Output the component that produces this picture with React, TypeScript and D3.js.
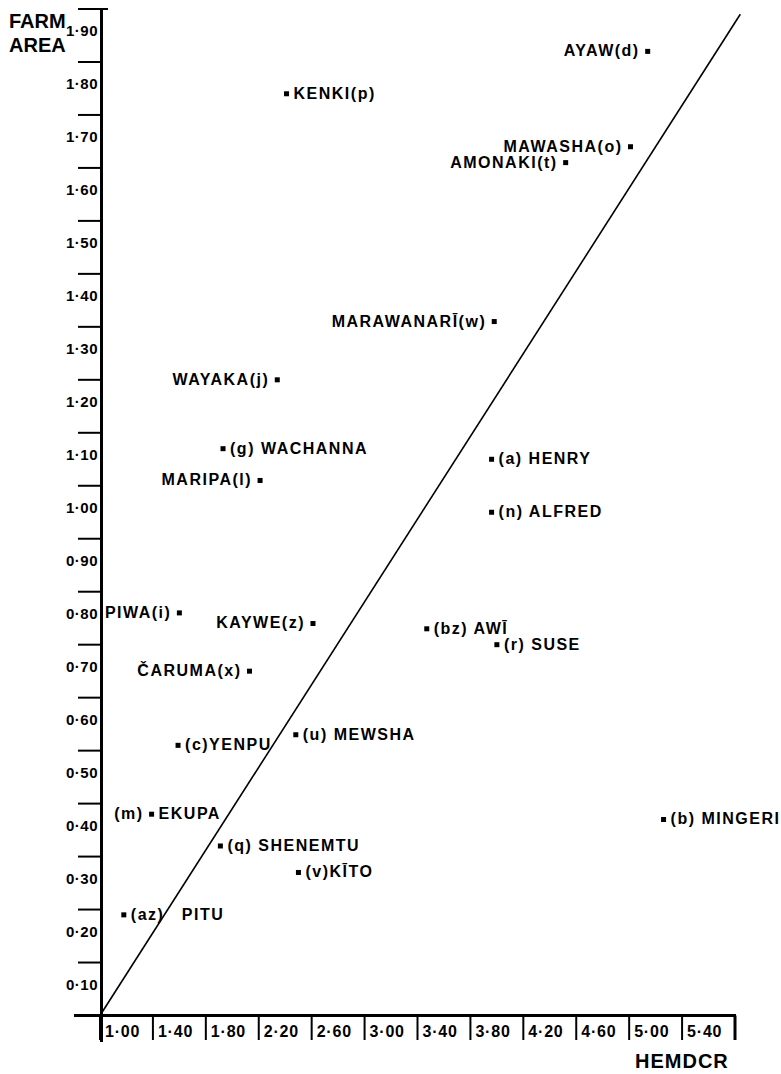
import React from "react";
import * as d3 from "d3";

// values (HEMDCR vs FARM AREA)
const hemdcr = [5.14, 2.41, 5.01, 4.52, 3.98, 2.34, 1.93, 2.21, 3.96, 3.96, 1.6, 2.61, 3.47, 4.0, 2.13, 1.59, 2.48, 1.39, 1.91, 2.5, 1.18, 5.26];
const farmArea = [1.82, 1.74, 1.64, 1.61, 1.31, 1.2, 1.07, 1.01, 1.05, 0.95, 0.76, 0.74, 0.73, 0.7, 0.65, 0.51, 0.53, 0.38, 0.32, 0.27, 0.19, 0.37];
// text written to the left / right of each marker
const leftLabels = ["AYAW(d)", "", "MAWASHA(o)", "AMONAKI(t)", "MARAWANARĪ(w)", "WAYAKA(j)", "", "MARIPA(l)", "", "", "PIWA(i)", "KAYWE(z)", "", "", "ČARUMA(x)", "", "", "(m)", "", "", "", ""];
const rightLabels = ["", "KENKI(p)", "", "", "", "", "(g) WACHANNA", "", "(a) HENRY", "(n) ALFRED", "", "", "(bz) AWĪ", "(r) SUSE", "", "(c)YENPU", "(u) MEWSHA", "EKUPA", "(q) SHENEMTU", "(v)KĪTO", "(az)\u2003PITU", "(b) MINGERI"];

// the reference line
const lineHemdcr = [1.0, 5.84];
const lineFarm = [0, 1.89];

const xTickValues = [1.0, 1.4, 1.8, 2.2, 2.6, 3.0, 3.4, 3.8, 4.2, 4.6, 5.0, 5.4, 5.8];
const xTickLabels = ["1·00", "1·40", "1·80", "2·20", "2·60", "3·00", "3·40", "3·80", "4·20", "4·60", "5·00", "5·40"];
const yTickValues = [0.1, 0.2, 0.3, 0.4, 0.5, 0.6, 0.7, 0.8, 0.9, 1.0, 1.1, 1.2, 1.3, 1.4, 1.5, 1.6, 1.7, 1.8, 1.9];
const yTickLabels = ["0·10", "0·20", "0·30", "0·40", "0·50", "0·60", "0·70", "0·80", "0·90", "1·00", "1·10", "1·20", "1·30", "1·40", "1·50", "1·60", "1·70", "1·80", "1·90"];

const FONT = "'Liberation Sans', Arial, sans-serif";

const App = () => {
  const width = 781;
  const height = 1074;

  const x = d3.scaleLinear().domain([1.0, 5.8]).range([100, 735]);
  const y = d3.scaleLinear().domain([0, 1.9]).range([1015.5, 9]);

  const axisX = x(1.0) + 1.5;
  const axisY = y(0);

  const line = d3.line<number>()
    .x(d => x(lineHemdcr[d]))
    .y(d => y(lineFarm[d]));

  const points = hemdcr.map((h, i) => {
    const px = x(h);
    const py = y(farmArea[i]);
    return (
      <g key={i}>
        <rect x={px - 2.5} y={py - 2.5} width={5} height={5} fill="#000" />
        {leftLabels[i] && (
          <text x={px - 8} y={py + 5} textAnchor="end">{leftLabels[i]}</text>
        )}
        {rightLabels[i] && (
          <text x={px + 7} y={py + 5}>{rightLabels[i]}</text>
        )}
      </g>
    );
  });

  return (
    <svg
      width={width}
      height={height}
      style={{ position: "absolute", left: 0, top: 0, background: "#fff" }}
      fontFamily={FONT}
    >
      <rect width={width} height={height} fill="#fff" />

      {/* y axis */}
      <line x1={axisX} y1={y(1.9)} x2={axisX} y2={1042} stroke="#000" strokeWidth={3} />
      {yTickValues.map((v, i) => (
        <g key={"yt" + i}>
          <line x1={78} y1={y(v)} x2={v === 1.9 ? 108 : axisX} y2={y(v)} stroke="#000" strokeWidth={2} />
          <text x={98} y={y(v) + 27} textAnchor="end" fontSize={15} fontWeight="bold" letterSpacing={0.5}>
            {yTickLabels[i]}
          </text>
        </g>
      ))}

      {/* x axis */}
      <line x1={74} y1={axisY} x2={x(5.8) + 1} y2={axisY} stroke="#000" strokeWidth={3} />
      {xTickValues.map((v, i) => (
        <g key={"xt" + i}>
          <line x1={x(v)} y1={axisY} x2={x(v)} y2={1040} stroke="#000" strokeWidth={v === 5.8 ? 3 : 2} />
          {xTickLabels[i] && (
            <text x={x(v) + 5} y={1037} fontSize={16} fontWeight="bold" letterSpacing={0.8}>
              {xTickLabels[i]}
            </text>
          )}
        </g>
      ))}

      {/* axis titles */}
      <text x={9} y={28} fontSize={20} fontWeight="bold">FARM</text>
      <text x={9} y={52} fontSize={20} fontWeight="bold">AREA</text>
      <text x={635} y={1068} fontSize={20} fontWeight="bold" letterSpacing={1}>HEMDCR</text>

      {/* diagonal */}
      <path d={line([0, 1]) || ""} fill="none" stroke="#000" strokeWidth={1.6} />

      <g fontSize={16} fontWeight="bold" letterSpacing={1.5}>
        {points}
      </g>
    </svg>
  );
};

export default App;
